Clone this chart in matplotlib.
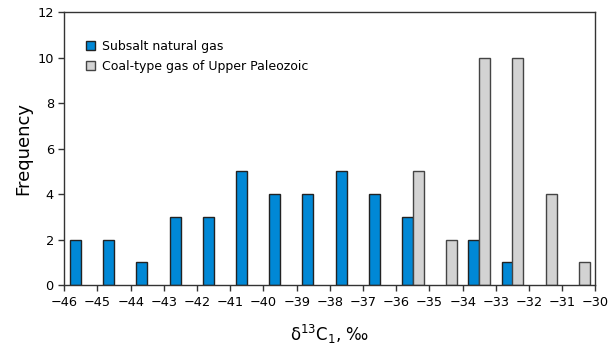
import matplotlib
matplotlib.use('Agg')
import matplotlib.pyplot as plt
import numpy as np

bins = np.arange(-46, -30)
subsalt = [2, 2, 1, 3, 3, 5, 4, 4, 5, 4, 3, 0, 2, 1, 0, 0]
coal = [0, 0, 0, 0, 0, 0, 0, 0, 0, 0, 5, 2, 10, 10, 4, 1]

blue = '#0088d6'
grey = '#d3d3d3'

fig = plt.figure(figsize=(6.12, 3.46), dpi=100)
ax = fig.add_axes([0.105, 0.176, 0.868, 0.789])

w = 0.33
sb = [(b, v) for b, v in zip(bins, subsalt) if v > 0]
cb = [(b, v) for b, v in zip(bins, coal) if v > 0]
ax.bar([b + 0.175 for b, v in sb], [v for b, v in sb], width=w, align='edge',
       color=blue, edgecolor='#222222', linewidth=1.0, label='Subsalt natural gas')
ax.bar([b + 0.5 for b, v in cb], [v for b, v in cb], width=w, align='edge',
       color=grey, edgecolor='#444444', linewidth=1.0,
       label='Coal-type gas of Upper Paleozoic')

ax.set_xlim(-46, -30)
ax.set_ylim(0, 12)
ax.set_xticks(np.arange(-46, -29))
ax.set_xticklabels(['\u2212%d' % abs(t) for t in range(-46, -29)])
ax.set_yticks(np.arange(0, 13, 2))
ax.tick_params(direction='out', labelsize=9.3, length=4, width=1, color='#333333')
for s in ax.spines.values():
    s.set_color('#333333')
    s.set_linewidth(1.0)

ax.set_ylabel('Frequency', fontsize=13)
ax.set_xlabel('δ$^{13}$C$_1$, ‰', fontsize=12, labelpad=10)

ax.legend(loc='upper left', bbox_to_anchor=(0.02, 0.94), frameon=False,
          fontsize=9, handlelength=0.7, handleheight=0.7, handletextpad=0.6,
          labelspacing=0.6)

fig.savefig('out.png', dpi=100)
